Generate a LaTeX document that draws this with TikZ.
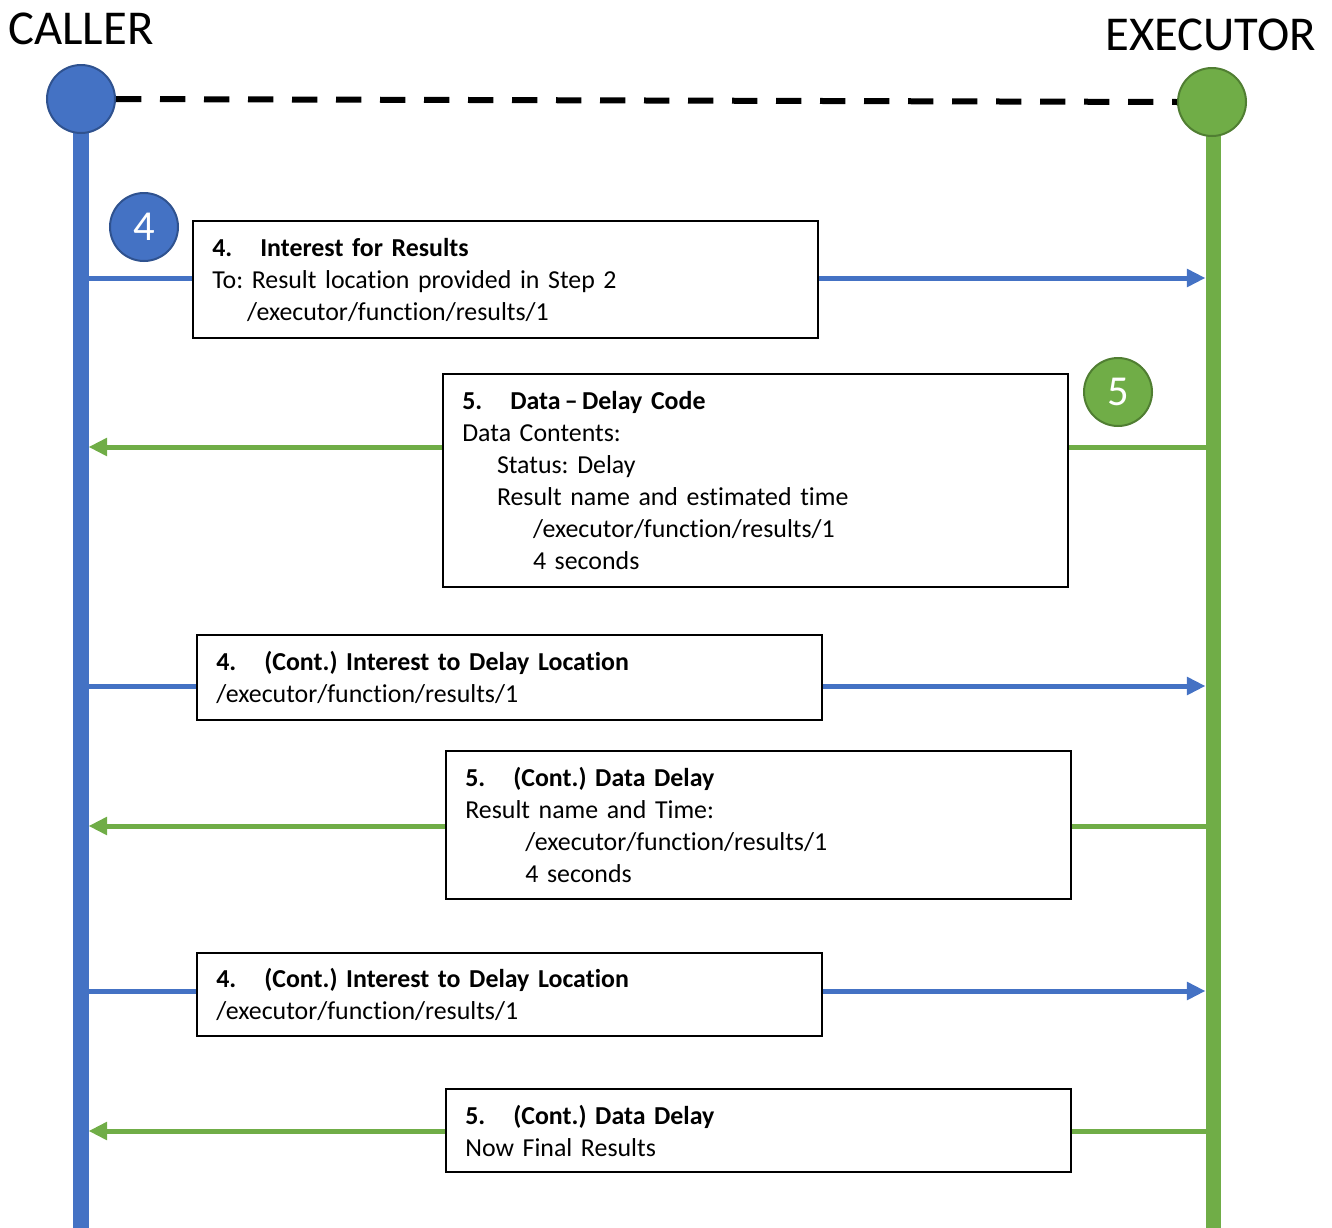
\documentclass[tikz,border=0pt]{standalone}
\usepackage{fontspec}
\setmainfont{Carlito}[Ligatures=NoCommon]
\usetikzlibrary{arrows.meta}
\frenchspacing
\definecolor{cblue}{HTML}{4472C4}
\definecolor{cbluedark}{HTML}{2F528F}
\definecolor{cgreen}{HTML}{70AD47}
\definecolor{cgreendark}{HTML}{507E32}
\newcommand{\stepnum}[1]{\makebox[36pt][l]{#1}}
\tikzset{
  party/.style={circle, minimum size=51pt, inner sep=0pt, line width=1.5pt},
  badge/.style={circle, minimum size=51pt, inner sep=0pt, line width=1.5pt,
    text=white, font=\fontsize{32}{36}\selectfont},
  heading/.style={inner sep=0pt, font=\fontsize{36.5}{40}\selectfont},
  msgbox/.style={draw=black, line width=1.5pt, fill=white, anchor=north west,
    inner xsep=14.5pt, inner ysep=0pt, minimum width=468.75pt, text width=439.75pt,
    align=left, font=\fontsize{19.4}{24}\selectfont},
  lifeline/.style={line width=11.5pt},
  msg/.style={line width=3.75pt},
  tip/.style={-{Triangle[length=14pt,width=13pt]}}
}
\begin{document}
\begin{tikzpicture}[x=0.75pt,y=-0.75pt]
  \useasboundingbox (0,0) rectangle (1332,1228);

  % headings
  \node[heading, anchor=base west] (callerlabel) at (8,44) {CALLER};
  \node[heading, anchor=base east] (execlabel) at (1316,50) {EXECUTOR};

  % lifelines
  \draw[lifeline, cblue] (81,120) -- (81,1228);
  \draw[lifeline, cgreen] (1213.5,120) -- (1213.5,1228);

  % parties and the link between them
  \node[party, fill=cblue, draw=cbluedark] (caller) at (81,99) {};
  \node[party, fill=cgreen, draw=cgreendark] (executor) at (1212,102) {};
  \draw[line width=4.5pt, dash pattern=on 19pt off 14pt] (caller.east) -- (executor.west);

  % step badges
  \node[badge, fill=cblue, draw=cbluedark] (b4) at (144,227) {4};
  \node[badge, fill=cgreen, draw=cgreendark] (b5) at (1118,392) {5};

  % message boxes
  \node[msgbox, minimum height=87.75pt] (m1) at (192,220)
    {\textbf{\stepnum{4.}Interest for Results}\\
     To: Result location provided in Step 2\\
     \hspace*{26pt}/executor/function/results/1};
  \node[msgbox, minimum height=159.75pt] (m2) at (442,373)
    {\textbf{\stepnum{5.}Data\,–\,Delay Code}\\
     Data Contents:\\
     \hspace*{26pt}Status: Delay\\
     \hspace*{26pt}Result name and estimated time\\
     \hspace*{53pt}/executor/function/results/1\\
     \hspace*{53pt}4 seconds};
  \node[msgbox, minimum height=63.75pt] (m3) at (196,634)
    {\textbf{\stepnum{4.}(Cont.) Interest to Delay Location}\\
     /executor/function/results/1};
  \node[msgbox, minimum height=111pt] (m4) at (445,750)
    {\textbf{\stepnum{5.}(Cont.) Data Delay}\\
     Result name and Time:\\
     \hspace*{45pt}/executor/function/results/1\\
     \hspace*{45pt}4 seconds};
  \node[msgbox, minimum height=62.25pt] (m5) at (196,952)
    {\textbf{\stepnum{4.}(Cont.) Interest to Delay Location}\\
     /executor/function/results/1};
  \node[msgbox, minimum height=62.25pt] (m6) at (445,1088)
    {\textbf{\stepnum{5.}(Cont.) Data Delay}\\
     Now Final Results};

  % attachment points on the lifelines
  \coordinate (c1) at (88.5,278);   \coordinate (e1) at (1205.5,278);
  \coordinate (c2) at (88.5,447);   \coordinate (e2) at (1205.5,447);
  \coordinate (c3) at (88.5,686);   \coordinate (e3) at (1205.5,686);
  \coordinate (c4) at (88.5,826);   \coordinate (e4) at (1205.5,826);
  \coordinate (c5) at (88.5,991);   \coordinate (e5) at (1205.5,991);
  \coordinate (c6) at (88.5,1131);  \coordinate (e6) at (1205.5,1131);

  % interests: caller -> executor
  \foreach \i in {1,3,5} {
    \draw[msg, cblue] (c\i) -- (c\i -| m\i.west);
    \draw[msg, cblue, tip] (e\i -| m\i.east) -- (e\i);
  }
  % data: executor -> caller
  \foreach \i in {2,4,6} {
    \draw[msg, cgreen] (e\i) -- (e\i -| m\i.east);
    \draw[msg, cgreen, tip] (c\i -| m\i.west) -- (c\i);
  }
\end{tikzpicture}
\end{document}
